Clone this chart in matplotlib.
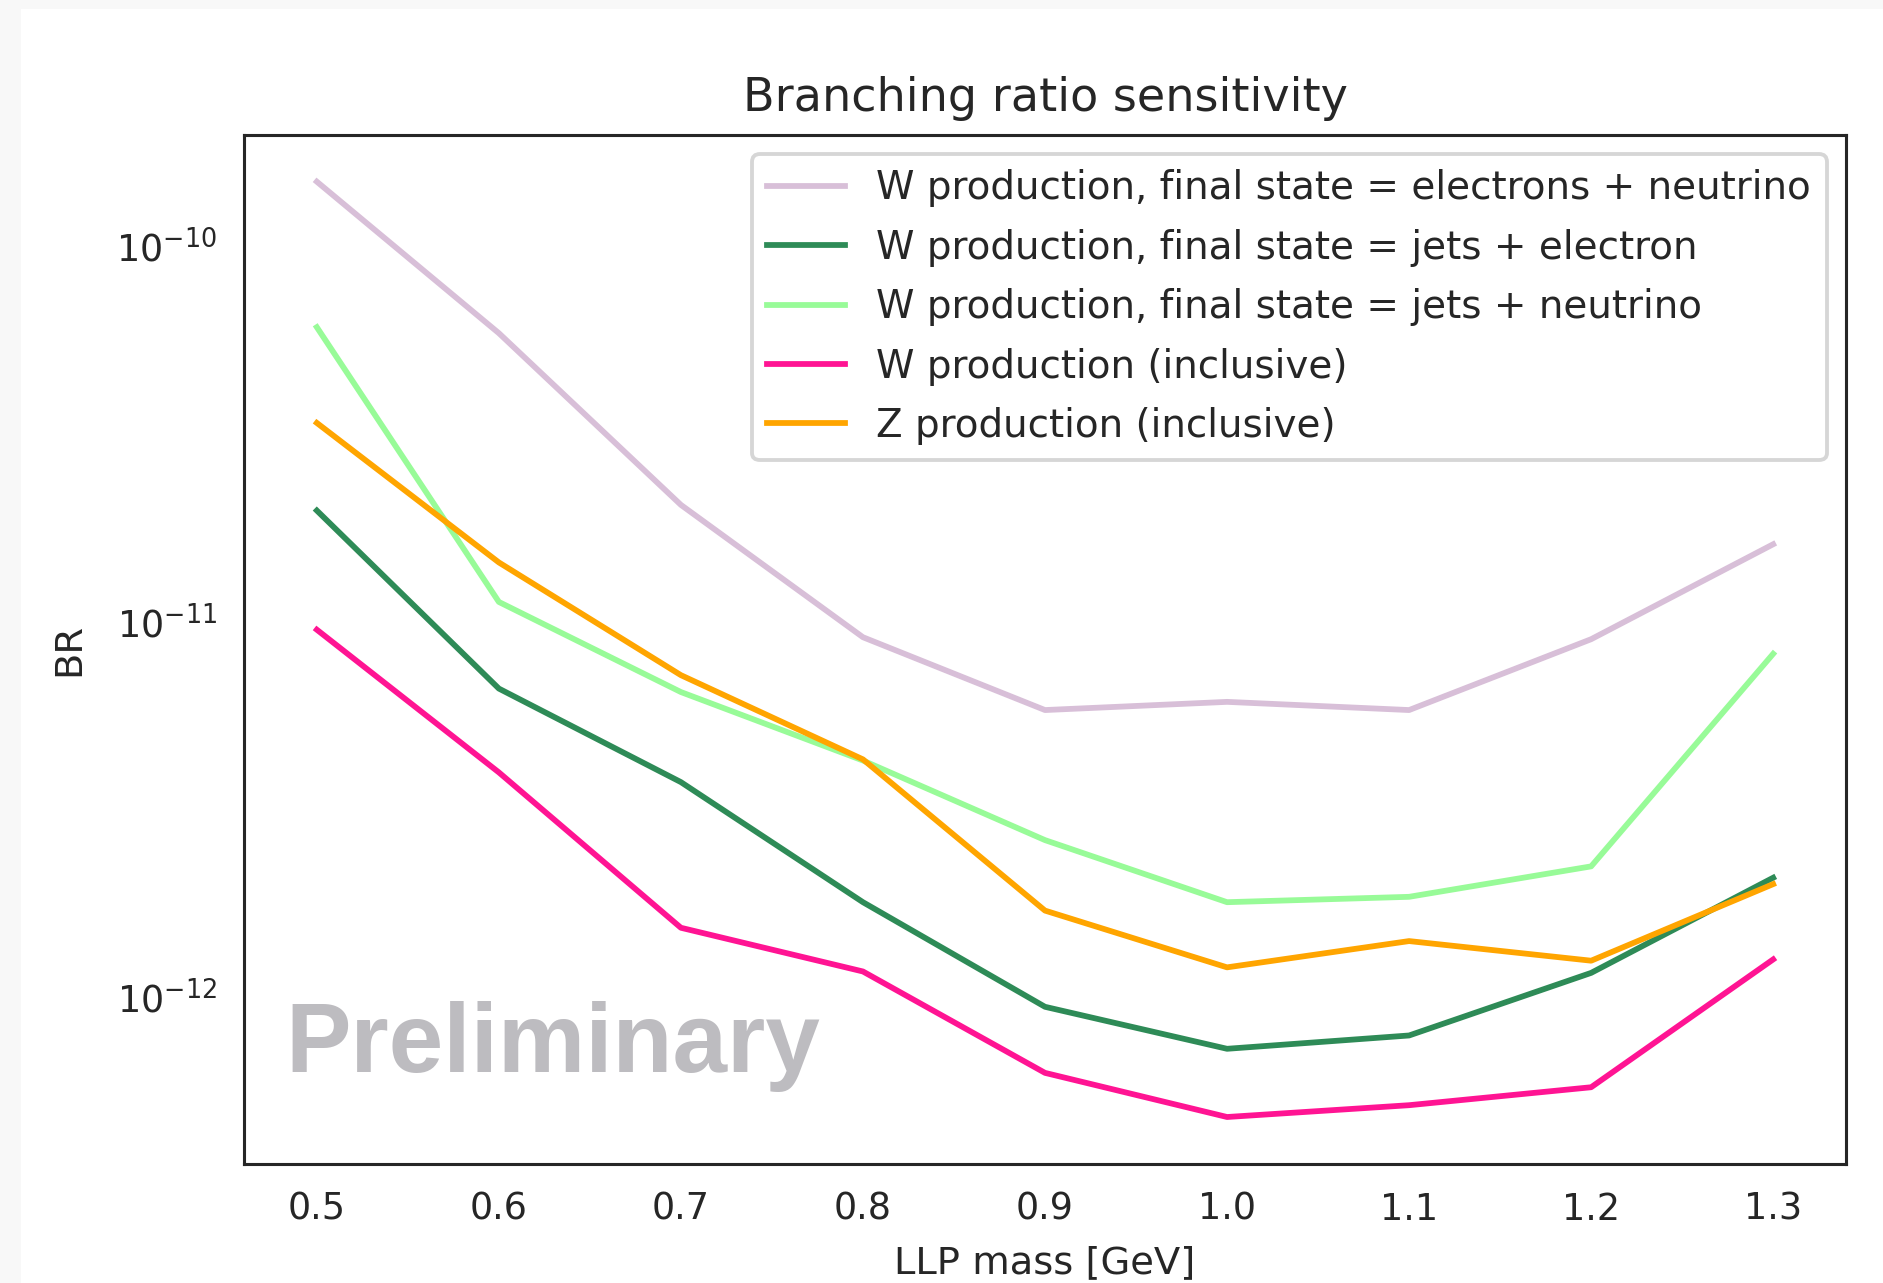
import numpy as np
import matplotlib
matplotlib.use("Agg")
import matplotlib.pyplot as plt
from matplotlib.patches import Rectangle

# LLP mass points [GeV]
masses = [0.5, 0.6, 0.7, 0.8, 0.9, 1.0, 1.1, 1.2, 1.3]

# branching ratio sensitivity
br_w_enu = [1.49e-10, 5.88e-11, 2.05e-11, 9.1e-12, 5.82e-12, 6.12e-12, 5.82e-12, 8.99e-12, 1.61e-11]
br_w_jets_e = [1.98e-11, 6.64e-12, 3.74e-12, 1.79e-12, 9.42e-13, 7.28e-13, 7.9e-13, 1.16e-12, 2.08e-12]
br_w_jets_nu = [6.1e-11, 1.13e-11, 6.5e-12, 4.27e-12, 2.62e-12, 1.79e-12, 1.85e-12, 2.23e-12, 8.22e-12]
br_w_incl = [9.53e-12, 3.97e-12, 1.53e-12, 1.17e-12, 6.28e-13, 4.79e-13, 5.15e-13, 5.75e-13, 1.26e-12]
br_z_incl = [3.39e-11, 1.44e-11, 7.21e-12, 4.3e-12, 1.70e-12, 1.20e-12, 1.41e-12, 1.25e-12, 2.0e-12]

labels = ['W production, final state = electrons + neutrino',
          'W production, final state = jets + electron',
          'W production, final state = jets + neutrino',
          'W production (inclusive)',
          'Z production (inclusive)']
colors = ['thistle', 'seagreen', 'palegreen', 'deeppink', 'orange']
yticks = [1e-12, 1e-11, 1e-10]

plt.rcParams['font.family'] = ['DejaVu Sans']
plt.rcParams['text.color'] = '.15'
plt.rcParams['axes.labelcolor'] = '.15'
plt.rcParams['xtick.color'] = '.15'
plt.rcParams['ytick.color'] = '.15'

dpi = 277
fig = plt.figure(figsize=(1883 / dpi, 1283 / dpi), dpi=dpi, facecolor='#f8f8f8')
# white page area inside the light grey screenshot border
fig.patches.append(Rectangle((21 / 1883, 0), 1, 1 - 9 / 1283, transform=fig.transFigure,
                             facecolor='white', edgecolor='none', zorder=-10))

ax = fig.add_axes([244 / 1883, 1 - 1164 / 1283, (1846 - 244) / 1883, (1164 - 134.5) / 1283])
for series, lab, col in zip([br_w_enu, br_w_jets_e, br_w_jets_nu, br_w_incl, br_z_incl], labels, colors):
    ax.plot(masses, series, color=col, label=lab, lw=1.5)

ax.set_yscale('log')
ax.set_ylim(3.59e-13, 1.99e-10)
ax.set_yticks(yticks)
ax.set_xticks(masses)
ax.set_xticklabels(['%.1f' % m for m in masses])
ax.minorticks_off()
# ticks hidden (seaborn white look) but keep their length in the label padding
ax.tick_params(which='major', length=3.5, labelsize=9.5, bottom=False, left=False)
for sp in ax.spines.values():
    sp.set_color('.15')
    sp.set_linewidth(0.8)

ax.set_title('Branching ratio sensitivity', fontsize=12)
ax.set_xlabel('LLP mass [GeV]', fontsize=10, labelpad=4.5)
ax.set_ylabel('BR', fontsize=10, labelpad=7.5)
ax.legend(loc='upper right', fontsize=10.1, labelspacing=0.55)

ax.text(0.0256, 0.0894, 'Preliminary', transform=ax.transAxes, fontsize=25.5,
        fontweight='bold', color='#bdbcc0', family=['Liberation Sans', 'DejaVu Sans'],
        va='baseline', ha='left')

fig.savefig('out.png', dpi=dpi, facecolor=fig.get_facecolor())
